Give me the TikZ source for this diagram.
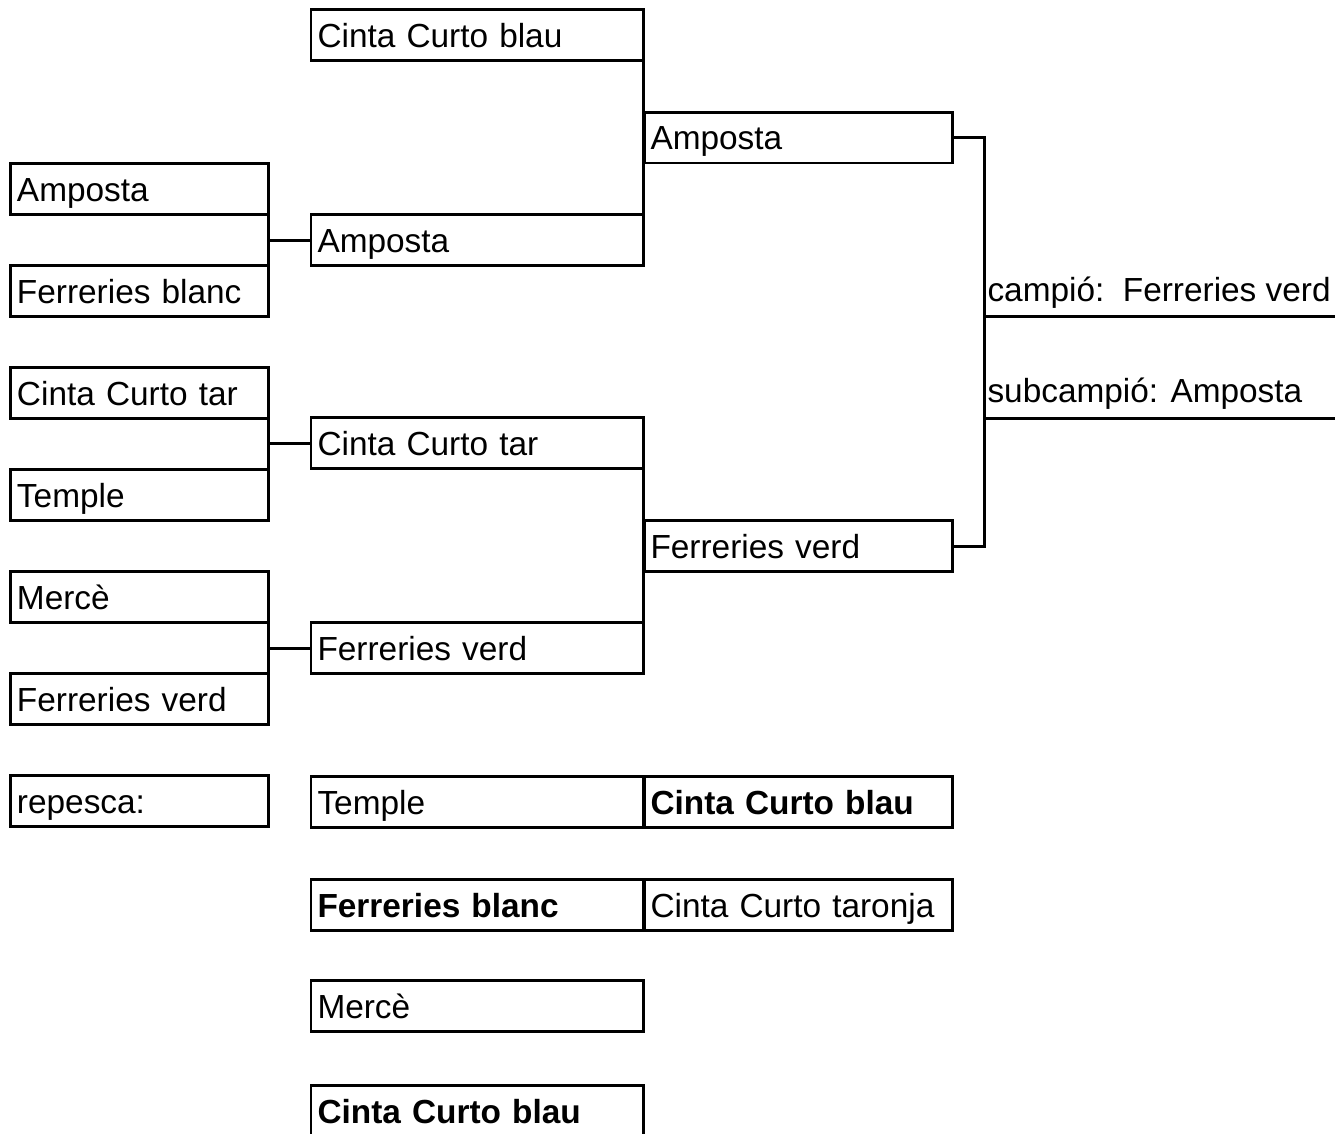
\documentclass[tikz,border=0pt]{standalone}
\usepackage{fontspec}
\setmainfont{Liberation Sans}
\begin{document}
\begin{tikzpicture}[x=0.02cm, y=-0.02cm, line width=1.7pt,
    font=\fontsize{19}{23}\selectfont,
    team/.style={draw, rectangle, anchor=west, minimum height=1.02cm,
        outer sep=0, inner xsep=0.13cm, inner ysep=0.1cm, text height=0.6cm,
        text depth=0.12cm, align=left},
    colA/.style={team, text width=4.9cm},
    colB/.style={team, text width=6.4cm},
    colC/.style={team, text width=5.92cm},
    result/.style={anchor=base west, inner sep=0}]
    \clip (0,0) rectangle (1335,1133);
    % first round
    \foreach \name/\y/\txt in {a1/189/Amposta, a2/291/Ferreries blanc,
        a3/393/Cinta Curto tar, a4/495/Temple, a5/597/Mercè,
        a6/699/Ferreries verd, a7/801/repesca:} {
        \node [colA] (\name) at (10.5,\y) {\txt};
    }
    % second round and repesca
    \foreach \name/\y/\txt in {b1/35/Cinta Curto blau, b2/240/Amposta,
        b3/443/Cinta Curto tar, b4/648/Ferreries verd, b5/802/Temple,
        b6/905/\textbf{Ferreries blanc}, b7/1006/Mercè,
        b8/1111/\textbf{Cinta Curto blau}} {
        \node [colB] (\name) at (311,\y) {\txt};
    }
    % semifinals
    \foreach \name/\y/\txt in {c1/137.5/Amposta, c2/546/Ferreries verd,
        c3/802/\textbf{Cinta Curto blau}, c4/905/Cinta Curto taronja} {
        \node [colC] (\name) at (644,\y) {\txt};
    }
    % brackets
    \foreach \i/\j/\k in {a1/a2/b2, a3/a4/b3, a5/a6/b4} {
        \draw (\i.south east) -- (\j.north east);
        \draw (\k.west) -- (\k.west -| \i.east);
    }
    \foreach \i/\j in {b1/b2, b3/b4} {
        \draw (\i.south east) -- (\j.north east);
    }
    % final
    \coordinate (f1) at (984,137.5);
    \coordinate (f2) at (984,546);
    \draw (c1.east) -- (f1) -- (f2) -- (c2.east);
    \coordinate (champ) at (984,316);
    \coordinate (champend) at (1340,316);
    \coordinate (sub) at (984,418);
    \coordinate (subend) at (1340,418);
    \draw (champ) -- (champend);
    \draw (sub) -- (subend);
    \node [result] (champtxt) at (986,301) {campió:\ \ Ferreries verd};
    \node [result] (subtxt) at (986,402) {subcampió: Amposta};
\end{tikzpicture}
\end{document}
